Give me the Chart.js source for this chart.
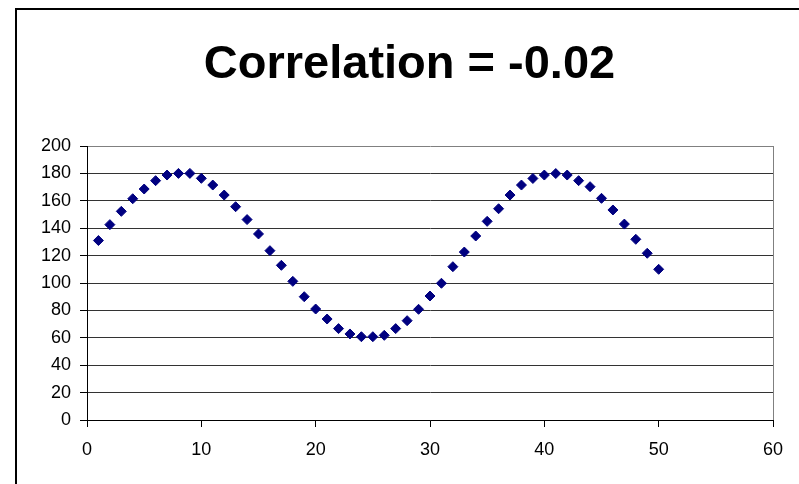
<!DOCTYPE html>
<html>
<head>
<meta charset="utf-8">
<script src="https://cdn.jsdelivr.net/npm/chart.js@4/dist/chart.umd.min.js"></script>
<style>
  html, body { margin: 0; padding: 0; background: #fff; }
  #wrap { position: relative; width: 799px; height: 484px; overflow: hidden; }
  #frame { position: absolute; left: 15px; top: 8px; width: 900px; height: 600px; border: 2px solid #000; }
  #chart { position: absolute; left: 0; top: 0; }
</style>
</head>
<body>
<div id="wrap">
  <div id="frame"></div>
  <canvas id="chart" width="799" height="484"></canvas>
</div>
<script>
var chartTitle = 'Correlation = -0.02';

var xValues = [1, 2, 3, 4, 5, 6, 7, 8, 9, 10,
    11, 12, 13, 14, 15, 16, 17, 18, 19, 20,
    21, 22, 23, 24, 25, 26, 27, 28, 29, 30,
    31, 32, 33, 34, 35, 36, 37, 38, 39, 40,
    41, 42, 43, 44, 45, 46, 47, 48, 49, 50];

var yValues = [131, 142.6, 152.3, 161.5, 168.6, 174.7, 178.8, 180, 180, 176.4,
    171.5, 164.2, 155.7, 146.3, 135.8, 123.6, 112.9, 101.2, 90, 81,
    73.7, 66.7, 62.8, 60.8, 60.8, 61.8, 66.7, 72.5, 80.8, 90.5,
    99.8, 111.9, 122.6, 134.3, 145, 154.2, 164.2, 171.5, 176.3, 178.8,
    179.9, 178.8, 174.7, 170.3, 161.8, 153.3, 143, 131.9, 121.7, 110];

var xTicks = [0, 10, 20, 30, 40, 50, 60];
var yTicks = [0, 20, 40, 60, 80, 100, 120, 140, 160, 180, 200];

var points = xValues.map(function (x, i) {
    return { x: x, y: yValues[i] };
});

var fontFamily = "'Liberation Sans', Arial, sans-serif";

// title is centred on the whole frame, not on the canvas minus padding
var frameTitle = {
    id: 'frameTitle',
    afterDraw: function (chart) {
        var c = chart.ctx;
        c.save();
        c.fillStyle = '#000';
        c.font = 'bold 47px ' + fontFamily;
        c.textAlign = 'center';
        c.textBaseline = 'alphabetic';
        c.fillText(chartTitle, 409.5, 78);
        c.restore();
    }
};

var ctx = document.getElementById('chart').getContext('2d');
var myChart = new Chart(ctx, {
    type: 'scatter',
    data: {
        datasets: [{
            label: 'Series1',
            data: points,
            pointStyle: 'rectRot',
            pointRadius: 5,
            pointBorderWidth: 1,
            backgroundColor: '#000080',
            borderColor: '#000080'
        }]
    },
    plugins: [frameTitle],
    options: {
        responsive: false,
        animation: false,
        layout: {
            padding: { left: 0, right: 26, top: 146, bottom: 0 }
        },
        plugins: {
            legend: { display: false },
            tooltip: { enabled: false },
            title: { display: false }
        },
        scales: {
            x: {
                type: 'linear',
                min: 0,
                max: 60,
                afterBuildTicks: function (scale) {
                    scale.ticks = xTicks.map(function (v) { return { value: v }; });
                },
                afterFit: function (scale) {
                    scale.height = 64;
                },
                ticks: {
                    color: '#000',
                    padding: 12,
                    maxRotation: 0,
                    font: { family: fontFamily, size: 18 }
                },
                grid: {
                    color: function (c) {
                        return c.tick && c.tick.value === 60 ? '#808080' : 'rgba(0,0,0,0)';
                    },
                    tickColor: '#000',
                    tickLength: 7,
                    lineWidth: 1
                },
                border: { color: '#000', width: 1 }
            },
            y: {
                type: 'linear',
                min: 0,
                max: 200,
                afterBuildTicks: function (scale) {
                    scale.ticks = yTicks.map(function (v) { return { value: v }; });
                },
                afterFit: function (scale) {
                    scale.width = 87;
                },
                ticks: {
                    color: '#000',
                    padding: 9,
                    font: { family: fontFamily, size: 18 }
                },
                grid: {
                    color: function (c) {
                        return c.tick && c.tick.value === 200 ? '#808080' : '#333';
                    },
                    tickColor: '#000',
                    tickLength: 7,
                    lineWidth: 1
                },
                border: { color: '#000', width: 1 }
            }
        }
    }
});
</script>
</body>
</html>
